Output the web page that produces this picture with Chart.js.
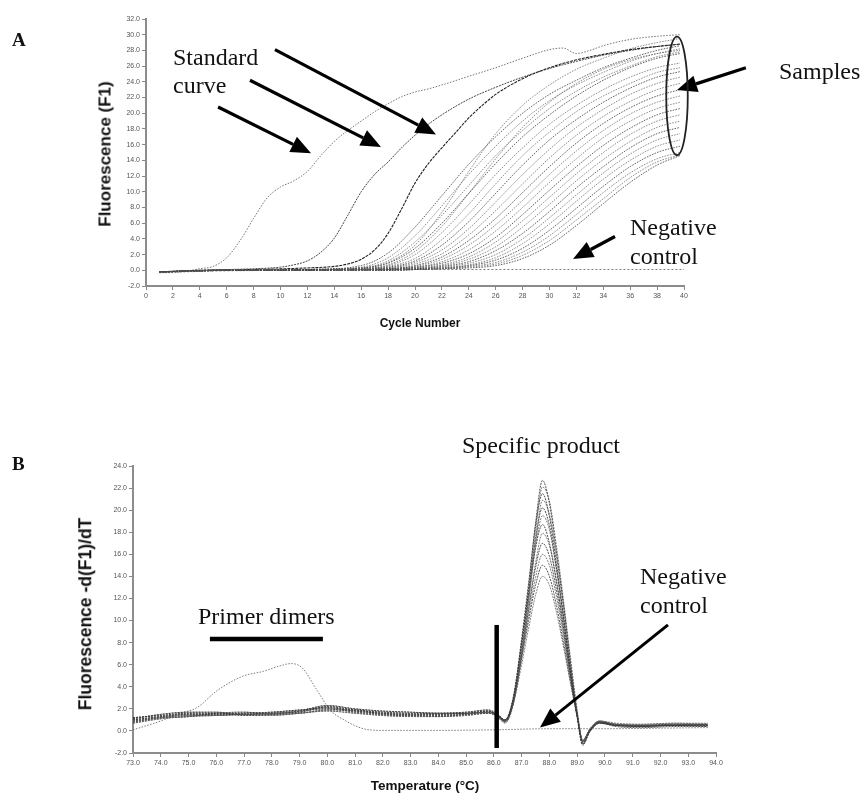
<!DOCTYPE html>
<html><head><meta charset="utf-8">
<script src="https://cdn.jsdelivr.net/npm/chart.js@4.4.1/dist/chart.umd.min.js"></script>
<style>
html,body{margin:0;padding:0;background:#fff;}
#wrap{position:relative;width:864px;height:803px;overflow:hidden;background:#fff;}
canvas{position:absolute;left:0;}
.t{position:absolute;white-space:nowrap;color:#111;}
.serif{font-family:'Liberation Serif','Times New Roman',serif;font-size:24px;line-height:24px;}
.lab{font-family:'Liberation Serif','Times New Roman',serif;font-weight:bold;font-size:19px;line-height:19px;}
.ax{font-family:'Liberation Sans',Arial,sans-serif;font-weight:bold;color:#111;line-height:1;}
.c{transform:translate(-50%,-50%);}
.r{transform:translate(-50%,-50%) rotate(-90deg);}
</style></head>
<body><div id="wrap">
<canvas id="cA" width="864" height="400" style="top:0"></canvas>
<canvas id="cB" width="864" height="403" style="top:400px"></canvas>

<div class="t lab" style="left:12px;top:30px">A</div>
<div class="t lab" style="left:12px;top:454px">B</div>
<div class="t serif" style="left:173px;top:45px">Standard</div>
<div class="t serif" style="left:173px;top:73px">curve</div>
<div class="t serif" style="left:779px;top:59px">Samples</div>
<div class="t serif" style="left:630px;top:215px">Negative</div>
<div class="t serif" style="left:630px;top:244px">control</div>
<div class="t serif" style="left:462px;top:433px">Specific product</div>
<div class="t serif" style="left:198px;top:604px">Primer dimers</div>
<div class="t serif" style="left:640px;top:564px">Negative</div>
<div class="t serif" style="left:640px;top:593px">control</div>

<div class="t ax r" style="left:105px;top:154px;font-size:17px">Fluorescence (F1)</div>
<div class="t ax c" style="left:420px;top:323px;font-size:12px">Cycle Number</div>
<div class="t ax r" style="left:86px;top:614px;font-size:17.5px">Fluorescence -d(F1)/dT</div>
<div class="t ax c" style="left:425px;top:786px;font-size:13.5px">Temperature (°C)</div>
</div>
<script>
// ---------------- Panel A: amplification curves ----------------
const A_X_TICKS = [0, 40, 2];            // min, max, step (Cycle Number)
const A_Y_TICKS = [-2, 32, 2];           // min, max, step (Fluorescence F1)

const STD1_CYCLES = [1,2,3,4,5,6,7,8,9,10,11,12,13,14,15,16,17,18,19,20,21,22,24,26,28,30,31,32,33,34,36,38,39.7];
const STD1_F1     = [-0.3,-0.3,-0.1,0.2,0.5,1.6,3.8,6.6,9.2,10.6,11.4,12.6,14.6,16.4,17.8,19.0,20.2,21.2,22.1,22.7,23.1,23.6,24.7,25.8,27.0,28.1,28.3,27.6,28.0,28.6,29.4,29.8,30.0];
const STD2_CYCLES = [1,4,8,10,11,12,13,14,15,16,17,18,19,20,21,22,24,26,28,30,32,34,36,38,39.7];
const STD2_F1     = [-0.2,0.0,0.2,0.4,0.7,1.2,2.3,4.1,7.0,10.0,12.2,13.8,15.6,17.2,18.6,19.8,21.8,23.3,24.6,25.7,26.6,27.4,28.0,28.5,28.8];
const STD3_CYCLES = [1,4,8,12,14,15,16,17,18,19,20,21,22,23,24,25,26,28,30,32,34,36,38,39.7];
const STD3_F1     = [-0.2,0.0,0.1,0.3,0.5,0.8,1.4,2.6,4.7,7.8,11.1,13.6,15.6,17.5,19.4,21.0,22.4,24.4,25.8,26.8,27.5,28.1,28.5,28.8];

const SAMPLE_CYCLES = [1,6,12,16,18,20,22,24,26,28,30,32,34,36,38,39.7];
const SAMPLE_01 = [-0.2,0,0.1,0.6,2.2,5.5,9.5,13.5,17.0,20.0,22.4,24.2,25.8,27.0,28.0,28.6];
const SAMPLE_02 = [-0.2,0,0.1,0.4,1.6,4.4,8.2,12.2,15.8,19.0,21.6,23.6,25.2,26.6,27.6,28.2];
const SAMPLE_03 = [-0.2,0,0.1,0.3,1.2,3.6,7.0,10.8,14.6,17.8,20.6,22.8,24.6,26.0,27.2,27.8];
const SAMPLE_04 = [-0.2,0,0.1,0.3,0.9,2.8,6.0,9.8,13.6,17.0,19.8,22.2,24.2,25.8,27.0,27.6];
const SAMPLE_05 = [-0.2,0,0.1,0.2,0.6,2.0,4.8,8.4,12.2,15.6,18.6,21.0,23.0,24.6,25.8,26.4];
const SAMPLE_06 = [-0.2,0,0.1,0.2,0.5,1.5,3.9,7.2,11.0,14.6,17.6,20.2,22.2,23.8,25.2,25.8];
const SAMPLE_07 = [-0.2,0,0,0.2,0.4,1.2,3.2,6.2,9.8,13.4,16.6,19.2,21.4,23.2,24.6,25.3];
const SAMPLE_08 = [-0.2,0,0,0.1,0.3,1.0,2.6,5.3,8.7,12.2,15.4,18.2,20.5,22.4,23.8,24.6];
const SAMPLE_09 = [-0.2,0,0,0.1,0.3,0.8,2.1,4.5,7.6,11.0,14.3,17.2,19.6,21.5,23.0,23.8];
const SAMPLE_10 = [-0.2,0,0,0.1,0.2,0.6,1.7,3.8,6.6,9.9,13.2,16.2,18.7,20.7,22.2,23.0];
const SAMPLE_11 = [-0.2,0,0,0.1,0.2,0.5,1.4,3.2,5.8,8.9,12.2,15.2,17.8,19.9,21.4,22.2];
const SAMPLE_12 = [-0.2,0,0,0.1,0.2,0.4,1.1,2.6,5.0,8.0,11.2,14.2,16.9,19.0,20.6,21.4];
const SAMPLE_13 = [-0.2,0,0,0.1,0.2,0.4,0.9,2.1,4.2,7.1,10.2,13.2,15.9,18.1,19.8,20.6];
const SAMPLE_14 = [-0.2,0,0,0,0.1,0.3,0.7,1.7,3.6,6.3,9.3,12.3,15.0,17.3,19.0,19.8];
const SAMPLE_15 = [-0.2,0,0,0,0.1,0.3,0.6,1.4,3.0,5.5,8.4,11.4,14.1,16.4,18.2,19.0];
const SAMPLE_16 = [-0.2,0,0,0,0.1,0.2,0.5,1.1,2.5,4.7,7.5,10.5,13.2,15.6,17.4,18.2];
const SAMPLE_17 = [-0.2,0,0,0,0.1,0.2,0.4,0.9,2.0,4.0,6.7,9.6,12.4,14.8,16.6,17.4];
const SAMPLE_18 = [-0.2,0,0,0,0.1,0.2,0.3,0.7,1.6,3.4,5.9,8.8,11.6,14.0,15.8,16.6];
const SAMPLE_19 = [-0.2,0,0,0,0,0.1,0.3,0.6,1.3,2.8,5.1,7.9,10.7,13.2,15.0,15.8];
const SAMPLE_20 = [-0.2,0,0,0,0,0.1,0.2,0.5,1.0,2.3,4.4,7.1,9.9,12.4,14.2,15.0];
const SAMPLE_21 = [-0.2,0,0,0,0,0.1,0.2,0.4,0.8,1.9,3.8,6.4,9.1,11.8,13.8,14.7];
const SAMPLE_22 = [-0.2,0,0,0,0,0.1,0.2,0.3,0.6,1.5,3.2,5.7,8.5,11.2,13.4,14.6];
const SAMPLE_23 = [-0.2,0,0.1,0.3,1.0,3.2,7.4,12.6,17.4,21.0,23.6,25.6,27.0,28.2,29.0,29.5];
const SAMPLE_24 = [-0.2,0,0.1,0.2,0.7,2.4,5.6,9.8,14.2,18.2,21.4,23.8,25.6,26.8,27.6,28.0];
const SAMPLES_A = [SAMPLE_01,SAMPLE_02,SAMPLE_03,SAMPLE_04,SAMPLE_05,SAMPLE_06,SAMPLE_07,SAMPLE_08,
  SAMPLE_09,SAMPLE_10,SAMPLE_11,SAMPLE_12,SAMPLE_13,SAMPLE_14,SAMPLE_15,SAMPLE_16,SAMPLE_17,SAMPLE_18,
  SAMPLE_19,SAMPLE_20,SAMPLE_21,SAMPLE_22,SAMPLE_23,SAMPLE_24];

const NEG_A_CYCLES = [1,5,10,15,20,25,30,35,40];
const NEG_A_F1     = [-0.3,-0.1,0.0,0.1,0.1,0.1,0.1,0.1,0.1];

// ---------------- Panel B: melting curves ----------------
const B_X_TICKS = [73, 94, 1];            // Temperature (°C)
const B_Y_TICKS = [-2, 24, 2];            // -d(F1)/dT

const MELT_T_PRE  = [73.0,74.0,75.0,76.0,77.0,78.0,79.0,80.0,81.0,82.0,83.0,84.0,85.0,85.8];
const MELT_T_PEAK = [86.1,86.4,86.7,87.0,87.25,87.5,87.75,88.0,88.25,88.5,88.75,89.0,89.2,89.45,89.8,90.4,91.3,92.5,93.7];

const PRE_A = [1.0,1.3,1.5,1.5,1.6,1.7,1.9,2.1,1.8,1.6,1.5,1.5,1.6,1.8];
const PRE_B = [0.8,1.2,1.4,1.4,1.5,1.6,1.8,2.0,1.7,1.5,1.4,1.4,1.5,1.7];
const PRE_C = [1.2,1.4,1.6,1.6,1.5,1.6,1.7,2.2,1.9,1.7,1.6,1.6,1.7,1.9];
const PRE_D = [0.9,1.2,1.3,1.6,1.7,1.5,1.6,1.9,1.9,1.5,1.4,1.3,1.5,1.6];
const PRE_E = [1.1,1.5,1.7,1.7,1.4,1.5,1.8,2.3,2.0,1.8,1.7,1.6,1.6,1.7];
const PRE_F = [0.7,1.1,1.3,1.4,1.5,1.4,1.6,1.8,1.6,1.4,1.3,1.3,1.4,1.6];

const PEAK_01 = [1.5,0.8,2.8,8.0,13.0,18.8,22.7,20.6,16.3,11.6,6.3,1.5,-1.2,0.0,0.8,0.5,0.4,0.5,0.5];
const PEAK_02 = [1.4,0.9,2.5,7.2,12.2,18.0,22.1,20.8,16.8,12.0,6.8,1.9,-1.0,0.1,0.9,0.6,0.5,0.6,0.6];
const PEAK_03 = [1.6,0.9,3.0,8.4,13.4,18.6,21.5,19.4,15.2,10.6,5.6,1.2,-1.3,-0.1,0.7,0.4,0.3,0.4,0.4];
const PEAK_04 = [1.3,0.7,2.4,7.0,11.8,17.0,20.9,19.6,15.9,11.4,6.4,1.7,-0.9,0.2,0.9,0.7,0.6,0.7,0.7];
const PEAK_05 = [1.5,1.0,2.9,7.8,12.6,17.4,20.2,18.6,14.8,10.4,5.6,1.4,-1.1,0.0,0.8,0.5,0.5,0.5,0.6];
const PEAK_06 = [1.4,0.8,2.6,7.2,11.8,16.6,19.5,18.2,14.6,10.3,5.7,1.5,-1.0,0.1,0.8,0.6,0.4,0.6,0.5];
const PEAK_07 = [1.6,1.0,3.1,8.0,12.4,16.6,18.7,17.0,13.6,9.5,5.2,1.3,-1.2,-0.1,0.7,0.5,0.4,0.5,0.4];
const PEAK_08 = [1.3,0.9,2.5,6.8,11.0,15.2,17.9,16.8,13.6,9.7,5.5,1.6,-0.9,0.1,0.9,0.6,0.6,0.7,0.6];
const PEAK_09 = [1.5,0.9,2.7,7.0,11.0,14.8,17.0,15.8,12.8,9.1,5.1,1.4,-1.0,0.0,0.8,0.5,0.5,0.6,0.5];
const PEAK_10 = [1.4,1.0,2.6,6.6,10.4,13.9,16.0,15.0,12.2,8.7,4.9,1.4,-0.9,0.1,0.8,0.6,0.5,0.5,0.6];
const PEAK_11 = [1.5,1.0,2.8,6.6,10.0,13.2,15.0,14.0,11.4,8.1,4.6,1.3,-0.9,0.0,0.7,0.5,0.4,0.5,0.5];
const PEAK_12 = [1.4,0.9,2.5,6.0,9.3,12.3,14.0,13.2,10.8,7.7,4.4,1.3,-0.8,0.1,0.8,0.6,0.5,0.6,0.6];
const MELT_SAMPLES = [
  [PRE_A,PEAK_01],[PRE_B,PEAK_02],[PRE_C,PEAK_03],[PRE_D,PEAK_04],[PRE_E,PEAK_05],[PRE_F,PEAK_06],
  [PRE_B,PEAK_07],[PRE_C,PEAK_08],[PRE_A,PEAK_09],[PRE_E,PEAK_10],[PRE_D,PEAK_11],[PRE_F,PEAK_12]];

const NEG_B_T    = [73.0,74.0,74.7,75.3,76.0,76.5,77.0,77.7,78.3,78.7,79.1,79.6,80.1,80.6,81.3,82.0,84.0,86.0,88.0,90.0,92.0,93.7];
const NEG_B_DFDT = [0.1,0.9,1.6,2.1,3.6,4.4,5.0,5.4,5.9,6.1,5.7,3.8,1.9,1.0,0.2,0.05,0.05,0.1,0.2,0.2,0.25,0.3];

// ---------------- annotations (data coordinates) ----------------
const ANNOT_A = {
  arrows: [ [[5.36,20.8],[12.27,14.9]], [[7.73,24.2],[17.47,15.7]], [[9.59,28.1],[21.56,17.3]],
            [[44.6,25.8],[39.48,22.95]], [[34.87,4.3],[31.75,1.45]] ],
  ellipse: {cx:39.48, cy:22.2, rx:0.8, ry:7.55}
};
const ANNOT_B = {
  arrows: [ [[92.27,9.6],[87.66,0.3]] ],
  vline: {x:86.1, y1:9.6, y2:-1.55},
  bar: {x1:75.77, x2:79.84, y:8.33}
};

// ---------------- helpers ----------------
const toPts = (xs, ys) => xs.map((v,i)=>({x:v, y:ys[i]}));
function line(data, color, dash, width){
  return {data, borderColor:color, borderWidth:width||1, borderDash:dash||[], pointRadius:0,
          fill:false, cubicInterpolationMode:'monotone'};
}
function drawArrow(ctx, x1,y1,x2,y2, lw, hl, hw){
  const a = Math.atan2(y2-y1, x2-x1);
  const bx = x2 - hl*Math.cos(a), by = y2 - hl*Math.sin(a);
  ctx.lineWidth = lw; ctx.lineCap='butt';
  ctx.beginPath(); ctx.moveTo(x1,y1); ctx.lineTo(bx,by); ctx.stroke();
  ctx.beginPath(); ctx.moveTo(x2,y2);
  ctx.lineTo(bx + hw*Math.sin(a), by - hw*Math.cos(a));
  ctx.lineTo(bx - hw*Math.sin(a), by + hw*Math.cos(a));
  ctx.closePath(); ctx.fill();
}
function axisOpts(t, fmt, fit){
  return {
    type:'linear', min:t[0], max:t[1],
    ticks:{stepSize:t[2], autoSkip:false, maxRotation:0, padding:2,
      font:{family:"'Liberation Sans', Arial, sans-serif", size:7}, color:'#555', callback:fmt},
    grid:{display:true, drawOnChartArea:false, drawTicks:true, tickLength:4, tickColor:'#888', tickWidth:1},
    border:{display:true, color:'#8c8c8c', width:2},
    afterFit:fit
  };
}
Chart.defaults.animation = false;

// ---------------- chart A ----------------
const dsA = [];
SAMPLES_A.forEach((s,i)=> dsA.push(line(toPts(SAMPLE_CYCLES, s), i%3===0?'rgba(60,60,60,0.8)':'rgba(95,95,95,0.7)', [1.6,1.2], 1)));
dsA.push(line(toPts(STD1_CYCLES, STD1_F1), 'rgba(90,90,90,0.85)', [1.5,1.5], 1));
dsA.push(line(toPts(STD2_CYCLES, STD2_F1), 'rgba(50,50,50,0.9)', [2,1], 1));
dsA.push(line(toPts(STD3_CYCLES, STD3_F1), 'rgba(20,20,20,0.95)', [3,1], 1.1));
dsA.push(line(toPts(NEG_A_CYCLES, NEG_A_F1), 'rgba(90,90,90,0.8)', [2,2], 1));

const annotAPlugin = {
  id:'annotA',
  afterDraw(chart){
    const {ctx, scales:{x,y}} = chart;
    ctx.save(); ctx.fillStyle='#000'; ctx.strokeStyle='#000';
    ANNOT_A.arrows.forEach(([p,q])=> drawArrow(ctx, x.getPixelForValue(p[0]), y.getPixelForValue(p[1]),
      x.getPixelForValue(q[0]), y.getPixelForValue(q[1]), 3.2, 20, 8.5));
    const e = ANNOT_A.ellipse;
    const cx = x.getPixelForValue(e.cx), cy = y.getPixelForValue(e.cy);
    const rx = Math.abs(x.getPixelForValue(e.cx+e.rx)-cx), ry = Math.abs(y.getPixelForValue(e.cy+e.ry)-cy);
    ctx.lineWidth = 1.8; ctx.strokeStyle='#222';
    ctx.beginPath(); ctx.ellipse(cx, cy, rx, ry, 0, 0, Math.PI*2); ctx.stroke();
    ctx.restore();
  }
};

new Chart(document.getElementById('cA'), {
  type:'line',
  data:{datasets:dsA},
  options:{
    responsive:false, animation:false,
    layout:{padding:{left:0, right:180, top:19, bottom:0}},
    plugins:{legend:{display:false}, tooltip:{enabled:false}},
    scales:{
      x: axisOpts(A_X_TICKS, v=>String(v), s=>{s.height=114;}),
      y: axisOpts(A_Y_TICKS, v=>v.toFixed(1), s=>{s.width=146;})
    }
  },
  plugins:[annotAPlugin]
});

// ---------------- chart B ----------------
const dsB = [];
MELT_SAMPLES.forEach(([pre,peak],i)=> dsB.push(line(toPts(MELT_T_PRE.concat(MELT_T_PEAK), pre.concat(peak)),
  i%2===0?'rgba(55,55,55,0.85)':'rgba(85,85,85,0.75)', [2,1], 1)));
dsB.push(line(toPts(NEG_B_T, NEG_B_DFDT), 'rgba(100,100,100,0.85)', [1.5,1.5], 1));

const annotBPlugin = {
  id:'annotB',
  afterDraw(chart){
    const {ctx, scales:{x,y}} = chart;
    ctx.save(); ctx.fillStyle='#000'; ctx.strokeStyle='#000';
    ANNOT_B.arrows.forEach(([p,q])=> drawArrow(ctx, x.getPixelForValue(p[0]), y.getPixelForValue(p[1]),
      x.getPixelForValue(q[0]), y.getPixelForValue(q[1]), 3, 20, 8.5));
    const v = ANNOT_B.vline;
    ctx.lineWidth = 4.5;
    ctx.beginPath(); ctx.moveTo(x.getPixelForValue(v.x), y.getPixelForValue(v.y1));
    ctx.lineTo(x.getPixelForValue(v.x), y.getPixelForValue(v.y2)); ctx.stroke();
    const b = ANNOT_B.bar;
    ctx.lineWidth = 4.5;
    ctx.beginPath(); ctx.moveTo(x.getPixelForValue(b.x1), y.getPixelForValue(b.y));
    ctx.lineTo(x.getPixelForValue(b.x2), y.getPixelForValue(b.y)); ctx.stroke();
    ctx.restore();
  }
};

new Chart(document.getElementById('cB'), {
  type:'line',
  data:{datasets:dsB},
  options:{
    responsive:false, animation:false,
    layout:{padding:{left:0, right:148, top:66, bottom:0}},
    plugins:{legend:{display:false}, tooltip:{enabled:false}},
    scales:{
      x: axisOpts(B_X_TICKS, v=>v.toFixed(1), s=>{s.height=50;}),
      y: axisOpts(B_Y_TICKS, v=>v.toFixed(1), s=>{s.width=133;})
    }
  },
  plugins:[annotBPlugin]
});
</script>
</body></html>
